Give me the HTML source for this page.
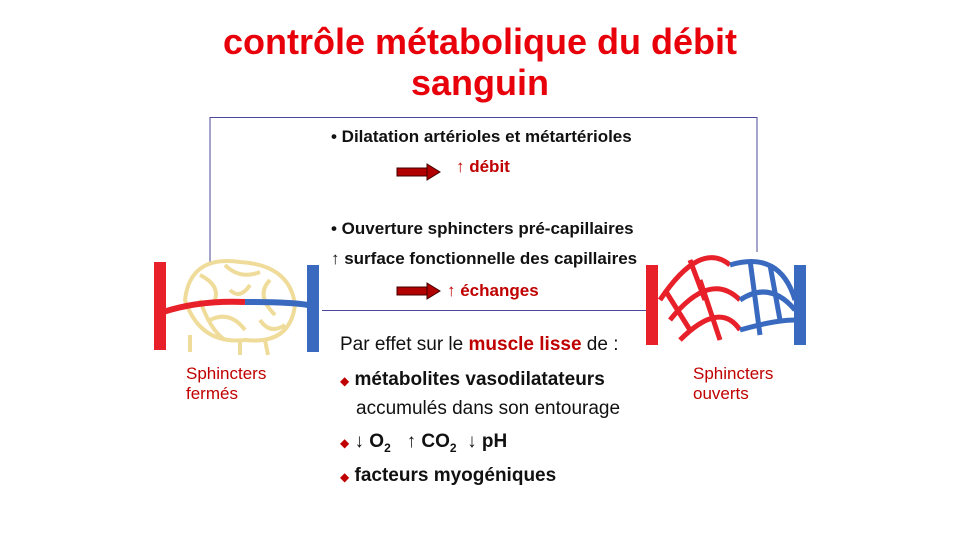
<!DOCTYPE html>
<html><head><meta charset="utf-8"><style>
body{margin:0;width:960px;height:540px;background:#fff;overflow:hidden;position:relative;font-family:"Liberation Sans",sans-serif}
.a{position:absolute;white-space:nowrap}
.t{color:#e8000b;font-weight:bold;font-size:36px;line-height:41px;text-align:center;width:960px;left:0}
.b{font-weight:bold;font-size:17px;color:#111}
.r{color:#c00000}
.m{font-size:19px;color:#111}
.d{color:#c00000}
</style></head><body>
<div class="a t" style="top:21px">contrôle métabolique du débit<br>sanguin</div>
<svg class="a" style="left:0;top:0" width="960" height="540">
<polyline points="210,262 210,117.5 757,117.5 757,252" fill="none" stroke="#4a4a9a" stroke-width="1"/>
<line x1="322" y1="310.5" x2="648" y2="310.5" stroke="#4a4a9a" stroke-width="1"/>
<g><rect x="397" y="168" width="30" height="8" fill="#b00000" stroke="#400" stroke-width="1"/><polygon points="427,164 440,172 427,180" fill="#b00000" stroke="#400"/></g>
<g><rect x="397" y="287" width="30" height="8" fill="#b00000" stroke="#400" stroke-width="1"/><polygon points="427,283 440,291 427,299" fill="#b00000" stroke="#400"/></g>
<g fill="none" stroke="#f0dc9a" stroke-width="4">
<path d="M185,300 Q190,255 240,262 Q290,265 295,305 Q290,345 245,340 Q200,345 185,300Z"/>
<path d="M200,275 Q220,285 215,300 M225,265 Q240,280 260,272 M270,280 Q255,295 275,315 M210,320 Q230,310 245,330 M250,285 Q240,300 230,290 M260,320 Q270,335 285,325 M200,300 Q210,330 225,340 M240,340 L240,355 M265,340 L268,355 M190,335 L190,352"/>
<path d="M160,262 L160,350" stroke="#e8202a" stroke-width="12"/>
<path d="M163,312 Q200,300 245,302" stroke="#e8202a" stroke-width="6"/>
<path d="M245,302 Q290,302 308,305" stroke="#3a6ac0" stroke-width="6"/>
<path d="M313,265 L313,352" stroke="#3a6ac0" stroke-width="12"/>
</g>
<g fill="none">
<path d="M660,300 Q700,240 730,265 M670,320 Q710,270 740,300 M680,340 Q720,300 740,330 M700,280 L720,340 M665,290 L690,330 M690,260 L705,300" stroke="#e8202a" stroke-width="5"/>
<path d="M730,265 Q780,250 795,300 M740,300 Q770,280 795,310 M740,330 Q775,320 795,320 M750,260 L760,335 M770,265 L780,320" stroke="#3a6ac0" stroke-width="5"/>
<path d="M652,265 L652,345" stroke="#e8202a" stroke-width="12"/>
<path d="M800,265 L800,345" stroke="#3a6ac0" stroke-width="12"/>
</g>
</svg>
<div class="a b" style="left:331px;top:127px">• Dilatation artérioles et métartérioles</div>
<div class="a b r" style="left:456px;top:157px">↑ débit</div>
<div class="a b" style="left:331px;top:219px">• Ouverture sphincters pré-capillaires</div>
<div class="a b" style="left:331px;top:249px">↑ surface fonctionnelle des capillaires</div>
<div class="a b r" style="left:447px;top:281px">↑ échanges</div>
<div class="a m" style="left:340px;top:334px">Par effet sur le <b class="r">muscle lisse</b> de :</div>
<div class="a m" style="left:340px;top:369px"><span class="r" style="font-size:12px">◆</span> <b>métabolites vasodilatateurs</b></div>
<div class="a m" style="left:356px;top:398px">accumulés dans son entourage</div>
<div class="a m" style="left:340px;top:431px"><span class="r" style="font-size:12px">◆</span> <b>↓ O<sub style="font-size:12px">2</sub> &nbsp;&nbsp;↑ CO<sub style="font-size:12px">2</sub> &nbsp;↓ pH</b></div>
<div class="a m" style="left:340px;top:465px"><span class="r" style="font-size:12px">◆</span> <b>facteurs myogéniques</b></div>
<div class="a d" style="left:186px;top:364px;font-size:17px;line-height:20px">Sphincters<br>fermés</div>
<div class="a d" style="left:693px;top:364px;font-size:17px;line-height:20px">Sphincters<br>ouverts</div>
</body></html>
